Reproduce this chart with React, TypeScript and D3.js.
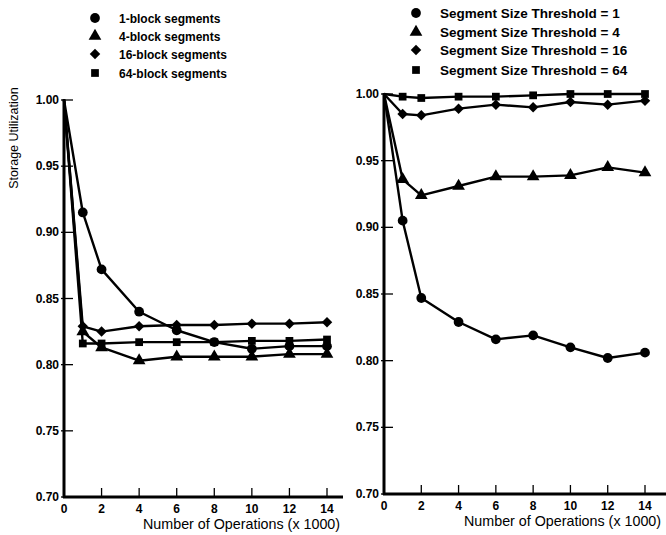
import React from 'react';
import * as d3 from 'd3';

// x values: number of operations (x 1000)
const ops = [0, 1, 2, 4, 6, 8, 10, 12, 14];
const xTicks = [0, 2, 4, 6, 8, 10, 12, 14];
const yTicks = [0.7, 0.75, 0.8, 0.85, 0.9, 0.95, 1.0];

// left panel: segment size
const leftLabels = ['1-block segments', '4-block segments', '16-block segments', '64-block segments'];
const left1 = [1.0, 0.915, 0.872, 0.84, 0.826, 0.817, 0.812, 0.814, 0.814];
const left4 = [1.0, 0.825, 0.813, 0.803, 0.806, 0.806, 0.806, 0.808, 0.808];
const left16 = [1.0, 0.829, 0.825, 0.829, 0.83, 0.83, 0.831, 0.831, 0.832];
const left64 = [1.0, 0.816, 0.816, 0.817, 0.817, 0.817, 0.818, 0.818, 0.819];

// right panel: segment size threshold
const rightLabels = [
  'Segment Size Threshold = 1',
  'Segment Size Threshold = 4',
  'Segment Size Threshold = 16',
  'Segment Size Threshold = 64',
];
const right1 = [1.0, 0.905, 0.847, 0.829, 0.816, 0.819, 0.81, 0.802, 0.806];
const right4 = [1.0, 0.936, 0.924, 0.931, 0.938, 0.938, 0.939, 0.945, 0.941];
const right16 = [1.0, 0.985, 0.984, 0.989, 0.992, 0.99, 0.994, 0.992, 0.995];
const right64 = [1.0, 0.998, 0.997, 0.998, 0.998, 0.999, 1.0, 1.0, 1.0];

const symbols = [d3.symbolCircle, d3.symbolTriangle, d3.symbolDiamond2, d3.symbolSquare];
const symSizes = [75, 70, 70, 60];
const font = 'Liberation Sans, Arial, Helvetica, sans-serif';

type PanelProps = {
  series: number[][];
  xRange: [number, number];
  yRange: [number, number];
  axisEnd: number;
};

function Panel({ series, xRange, yRange, axisEnd }: PanelProps) {
  const x = d3.scaleLinear().domain([0, 14]).range(xRange);
  const y = d3.scaleLinear().domain([0.7, 1.0]).range(yRange);
  const line = d3
    .line<number>()
    .x((_, i) => x(ops[i]))
    .y((d) => y(d));
  const x0 = x(0);
  const y0 = y(0.7);
  return (
    <g>
      {series.map((s, si) => (
        <g key={si}>
          <path d={line(s) || ''} fill="none" stroke="#000" strokeWidth={2.4} strokeLinejoin="round" />
          {s.map((v, i) =>
            i === 0 ? null : (
              <path
                key={i}
                transform={`translate(${x(ops[i])},${y(v)})`}
                d={d3.symbol().type(symbols[si]).size(symSizes[si])() || ''}
                fill="#000"
              />
            )
          )}
        </g>
      ))}
      {/* axes */}
      <line x1={x0} x2={x0} y1={y(1.0) - 1} y2={y0 + 1} stroke="#000" strokeWidth={3} />
      <line x1={x0 - 1} x2={axisEnd} y1={y0} y2={y0} stroke="#000" strokeWidth={3} />
      {yTicks.map((t) => (
        <g key={t}>
          <line x1={x0 - 3} x2={x0 + 9} y1={y(t)} y2={y(t)} stroke="#000" strokeWidth={1.3} />
          <text
            x={x0 - 5}
            y={y(t) + 4}
            textAnchor="end"
            fontFamily={font}
            fontWeight="bold"
            fontSize={12}
          >
            {t.toFixed(2)}
          </text>
        </g>
      ))}
      {xTicks.map((t) => (
        <g key={t}>
          {t > 0 && <line x1={x(t)} x2={x(t)} y1={y0} y2={y0 - 9} stroke="#000" strokeWidth={1.3} />}
          <text x={x(t)} y={y0 + 16} textAnchor="middle" fontFamily={font} fontWeight="bold" fontSize={12}>
            {t}
          </text>
        </g>
      ))}
    </g>
  );
}

function Legend({ labels, x, ys, size }: { labels: string[]; x: number; ys: number[]; size: number }) {
  return (
    <g>
      {labels.map((l, i) => (
        <g key={l}>
          <path
            transform={`translate(${x},${ys[i]})`}
            d={d3.symbol().type(symbols[i]).size(symSizes[i])() || ''}
            fill="#000"
          />
          <text x={x + 24} y={ys[i] + 4.5} fontFamily={font} fontWeight="bold" fontSize={size}>
            {l}
          </text>
        </g>
      ))}
    </g>
  );
}

export default function App() {
  return (
    <svg
      width={666}
      height={535}
      style={{ position: 'absolute', left: 0, top: 0, background: '#fff' }}
    >
      <rect width={666} height={535} fill="#fff" />
      <Legend labels={leftLabels} x={95} ys={[18, 36, 54, 73]} size={12} />
      <Legend labels={rightLabels} x={416} ys={[13, 32, 50, 70]} size={13.5} />
      <Panel series={[left1, left4, left16, left64]} xRange={[64, 327]} yRange={[497, 100]} axisEnd={343} />
      <Panel series={[right1, right4, right16, right64]} xRange={[384, 645]} yRange={[494, 94]} axisEnd={666} />
      <text
        transform="translate(18,138) rotate(-90)"
        textAnchor="middle"
        fontFamily={font}
        fontSize={12.5}
      >
        Storage Utilization
      </text>
      <text x={143} y={529} fontFamily={font} fontSize={14.3}>
        Number of Operations (x 1000)
      </text>
      <text x={464} y={526} fontFamily={font} fontSize={14.3}>
        Number of Operations (x 1000)
      </text>
    </svg>
  );
}
